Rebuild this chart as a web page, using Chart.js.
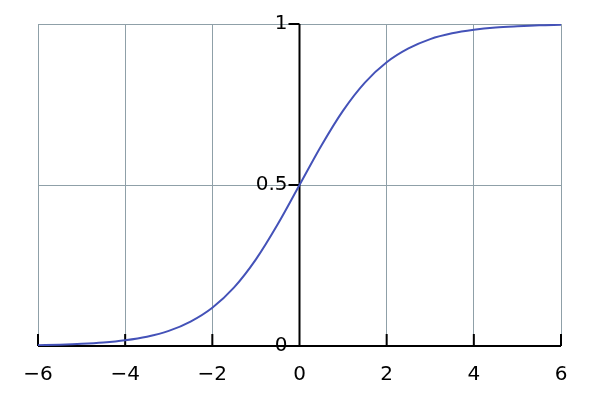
<!DOCTYPE html>
<html>
<head>
<meta charset="utf-8">
<script src="https://cdn.jsdelivr.net/npm/chart.js@4"></script>
<style>
  html, body { margin: 0; padding: 0; background: #fff; }
  #wrap { width: 600px; height: 400px; }
</style>
</head>
<body>
<div id="wrap"><canvas id="myChart"></canvas></div>
<script>
'use strict';

// DATA
let xValues = [-6, -5.5, -5, -4.5, -4, -3.5, -3, -2.5, -2, -1.5, -1, -0.5, 0,
  0.5, 1, 1.5, 2, 2.5, 3, 3.5, 4, 4.5, 5, 5.5, 6];
let yValues = [0.0025, 0.0041, 0.0067, 0.011, 0.018, 0.029, 0.047, 0.076, 0.119, 0.182, 0.269, 0.378, 0.5,
  0.622, 0.731, 0.818, 0.881, 0.924, 0.953, 0.971, 0.982, 0.989, 0.993, 0.996, 0.9975];
let xTicks = [-6, -4, -2, 0, 2, 4, 6];
let xTickLabels = ['\u22126', '\u22124', '\u22122', '0', '2', '4', '6'];
let yTicks = [0, 0.5, 1];
let yTickLabels = ['0', '0.5', '1'];

let points = [];
for (let i = 0; i < xValues.length; i++) {
  points.push({ x: xValues[i], y: yValues[i] });
}

const FONT = 'DejaVu Sans';

// axes through the origin, drawn under the curve
const axesPlugin = {
  id: 'axesPlugin',
  beforeDatasetsDraw(chart) {
    const ctx = chart.ctx;
    const xs = chart.scales.x;
    const ys = chart.scales.y;
    const x0 = xs.getPixelForValue(0);
    const y0 = ys.getPixelForValue(0);
    ctx.save();
    ctx.strokeStyle = '#000';
    ctx.lineWidth = 2;
    ctx.beginPath();
    ctx.moveTo(xs.getPixelForValue(-6), y0);
    ctx.lineTo(xs.getPixelForValue(6), y0);
    ctx.moveTo(x0, ys.getPixelForValue(0));
    ctx.lineTo(x0, ys.getPixelForValue(1));
    for (let i = 0; i < xTicks.length; i++) {
      let px = xs.getPixelForValue(xTicks[i]);
      ctx.moveTo(px, y0);
      ctx.lineTo(px, y0 - 12);
    }
    for (let i = 0; i < yTicks.length; i++) {
      let py = ys.getPixelForValue(yTicks[i]);
      ctx.moveTo(x0, py);
      ctx.lineTo(x0 - 11, py);
    }
    ctx.stroke();

    ctx.fillStyle = '#000';
    ctx.font = '20px "' + FONT + '"';
    ctx.textAlign = 'right';
    ctx.textBaseline = 'middle';
    for (let i = 0; i < yTicks.length; i++) {
      ctx.fillText(yTickLabels[i], x0 - 12, ys.getPixelForValue(yTicks[i]));
    }
    ctx.restore();
  }
};

const ctx = document.getElementById('myChart');
const myChart = new Chart(ctx, {
  type: 'line',
  data: {
    datasets: [{
      data: points,
      borderColor: '#4452b8',
      borderWidth: 2,
      pointRadius: 0,
      fill: false,
      cubicInterpolationMode: 'monotone'
    }]
  },
  options: {
    responsive: true,
    maintainAspectRatio: false,
    animation: false,
    layout: { padding: { left: 38, right: 39, top: 24, bottom: -4 } },
    plugins: { legend: { display: false }, tooltip: { enabled: false } },
    scales: {
      x: {
        type: 'linear',
        min: -6,
        max: 6,
        afterBuildTicks(scale) {
          scale.ticks = xTicks.map(v => ({ value: v }));
        },
        grid: { color: '#8fa0a8', lineWidth: 1, drawTicks: false },
        border: { display: false },
        ticks: {
          color: '#000',
          font: { family: FONT, size: 20 },
          padding: 17,
          maxRotation: 0,
          callback: (v) => xTickLabels[xTicks.indexOf(v)]
        }
      },
      y: {
        type: 'linear',
        min: 0,
        max: 1,
        afterBuildTicks(scale) {
          scale.ticks = yTicks.map(v => ({ value: v }));
        },
        grid: { color: '#8fa0a8', lineWidth: 1, drawTicks: false },
        border: { display: false },
        ticks: { display: false }
      }
    }
  },
  plugins: [axesPlugin]
});
</script>
</body>
</html>
